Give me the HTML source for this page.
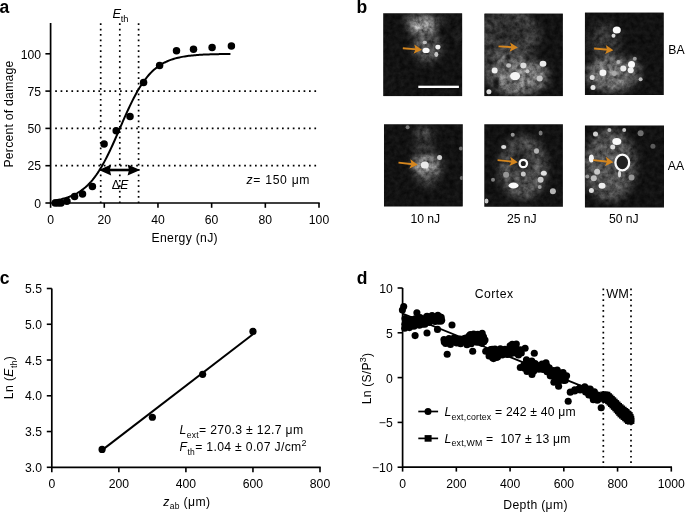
<!DOCTYPE html>
<html><head><meta charset="utf-8"><style>
html,body{margin:0;padding:0;background:#fff;}
svg{display:block;will-change:transform;}
text{font-family:"Liberation Sans",sans-serif;font-size:12.2px;fill:#000;}
text.lab{font-weight:bold;font-size:17.5px;}
</style></head><body>
<svg width="685" height="512" viewBox="0 0 685 512">
<defs>
<filter id="bc" x="-100%" y="-100%" width="300%" height="300%" color-interpolation-filters="sRGB"><feGaussianBlur stdDeviation="4"/></filter>
<filter id="bs" x="-100%" y="-100%" width="300%" height="300%" color-interpolation-filters="sRGB"><feGaussianBlur stdDeviation="0.7"/></filter>
<filter id="bd" x="-100%" y="-100%" width="300%" height="300%" color-interpolation-filters="sRGB"><feGaussianBlur stdDeviation="1.1"/></filter>
<filter id="br" x="-100%" y="-100%" width="300%" height="300%" color-interpolation-filters="sRGB"><feGaussianBlur stdDeviation="0.4"/></filter>
<filter id="tex" x="0" y="0" width="100%" height="100%" color-interpolation-filters="sRGB"><feTurbulence type="fractalNoise" baseFrequency="0.2" numOctaves="4" seed="5" result="n"/><feColorMatrix in="n" type="matrix" values="1 0 0 0 0  1 0 0 0 0  1 0 0 0 0  0 0 0 0 1" result="ng"/><feComposite in="SourceGraphic" in2="ng" operator="arithmetic" k1="1.5" k2="0.25" k3="0" k4="0"/></filter>
</defs>
<g id="pa">
<text x="-0.5" y="12.8" class="lab">a</text>
<line x1="55.20" y1="165.70" x2="319.00" y2="165.70" stroke="#000" stroke-width="1.7" stroke-dasharray="1.7 3.7" fill="none"/>
<line x1="55.20" y1="128.40" x2="319.00" y2="128.40" stroke="#000" stroke-width="1.7" stroke-dasharray="1.7 3.7" fill="none"/>
<line x1="55.20" y1="91.10" x2="319.00" y2="91.10" stroke="#000" stroke-width="1.7" stroke-dasharray="1.7 3.7" fill="none"/>
<line x1="100.7" y1="23.3" x2="100.7" y2="203.0" stroke="#000" stroke-width="1.7" stroke-dasharray="1.7 3.7" fill="none"/>
<line x1="119.8" y1="23.3" x2="119.8" y2="203.0" stroke="#000" stroke-width="1.7" stroke-dasharray="1.7 3.7" fill="none"/>
<line x1="138.6" y1="23.3" x2="138.6" y2="203.0" stroke="#000" stroke-width="1.7" stroke-dasharray="1.7 3.7" fill="none"/>
<path d="M50.6 23 V203.0 H319.70000000000005" stroke="#000" stroke-width="1.7" fill="none"/>
<line x1="45.4" y1="203.00" x2="50.6" y2="203.00" stroke="#000" stroke-width="1.6"/>
<text x="41.0" y="207.70" text-anchor="end">0</text>
<line x1="45.4" y1="165.70" x2="50.6" y2="165.70" stroke="#000" stroke-width="1.6"/>
<text x="41.0" y="170.40" text-anchor="end">25</text>
<line x1="45.4" y1="128.40" x2="50.6" y2="128.40" stroke="#000" stroke-width="1.6"/>
<text x="41.0" y="133.10" text-anchor="end">50</text>
<line x1="45.4" y1="91.10" x2="50.6" y2="91.10" stroke="#000" stroke-width="1.6"/>
<text x="41.0" y="95.80" text-anchor="end">75</text>
<line x1="45.4" y1="53.80" x2="50.6" y2="53.80" stroke="#000" stroke-width="1.6"/>
<text x="41.0" y="58.50" text-anchor="end">100</text>
<line x1="50.60" y1="203.0" x2="50.60" y2="207.8" stroke="#000" stroke-width="1.6"/>
<text x="50.60" y="223.7" text-anchor="middle">0</text>
<line x1="104.28" y1="203.0" x2="104.28" y2="207.8" stroke="#000" stroke-width="1.6"/>
<text x="104.28" y="223.7" text-anchor="middle">20</text>
<line x1="157.96" y1="203.0" x2="157.96" y2="207.8" stroke="#000" stroke-width="1.6"/>
<text x="157.96" y="223.7" text-anchor="middle">40</text>
<line x1="211.64" y1="203.0" x2="211.64" y2="207.8" stroke="#000" stroke-width="1.6"/>
<text x="211.64" y="223.7" text-anchor="middle">60</text>
<line x1="265.32" y1="203.0" x2="265.32" y2="207.8" stroke="#000" stroke-width="1.6"/>
<text x="265.32" y="223.7" text-anchor="middle">80</text>
<line x1="319.00" y1="203.0" x2="319.00" y2="207.8" stroke="#000" stroke-width="1.6"/>
<text x="319.00" y="223.7" text-anchor="middle">100</text>
<text x="184.6" y="241.7" text-anchor="middle" textLength="66">Energy (nJ)</text>
<text transform="translate(12.9 114.1) rotate(-90)" text-anchor="middle" textLength="107">Percent of damage</text>
<polyline points="53.28,200.65 54.63,200.45 55.97,200.23 57.31,199.99 58.65,199.74 59.99,199.46 61.34,199.16 62.68,198.83 64.02,198.48 65.36,198.10 66.70,197.69 68.05,197.25 69.39,196.77 70.73,196.25 72.07,195.70 73.41,195.09 74.76,194.45 76.10,193.75 77.44,193.00 78.78,192.19 80.12,191.33 81.47,190.40 82.81,189.40 84.15,188.34 85.49,187.20 86.83,185.98 88.18,184.69 89.52,183.30 90.86,181.84 92.20,180.28 93.54,178.62 94.89,176.88 96.23,175.03 97.57,173.09 98.91,171.05 100.25,168.90 101.60,166.66 102.94,164.32 104.28,161.89 105.62,159.36 106.96,156.74 108.31,154.04 109.65,151.26 110.99,148.41 112.33,145.50 113.67,142.53 115.02,139.51 116.36,136.45 117.70,133.37 119.04,130.26 120.38,127.16 121.73,124.05 123.07,120.96 124.41,117.90 125.75,114.87 127.09,111.89 128.44,108.97 129.78,106.10 131.12,103.31 132.46,100.59 133.80,97.96 135.15,95.41 136.49,92.96 137.83,90.60 139.17,88.34 140.51,86.17 141.86,84.11 143.20,82.15 144.54,80.28 145.88,78.52 147.22,76.85 148.57,75.27 149.91,73.78 151.25,72.38 152.59,71.07 153.93,69.84 155.28,68.68 156.62,67.60 157.96,66.59 159.30,65.65 160.64,64.77 161.99,63.96 163.33,63.20 164.67,62.49 166.01,61.83 167.35,61.22 168.70,60.65 170.04,60.13 171.38,59.64 172.72,59.19 174.06,58.78 175.41,58.39 176.75,58.03 178.09,57.70 179.43,57.40 180.77,57.12 182.12,56.86 183.46,56.62 184.80,56.40 186.14,56.19 187.48,56.00 188.83,55.83 190.17,55.67 191.51,55.52 192.85,55.39 194.19,55.26 195.54,55.14 196.88,55.04 198.22,54.94 199.56,54.85 200.90,54.77 202.25,54.69 203.59,54.62 204.93,54.55 206.27,54.49 207.61,54.44 208.96,54.39 210.30,54.34 211.64,54.30 212.98,54.26 214.32,54.22 215.67,54.19 217.01,54.16 218.35,54.13 219.69,54.10 221.03,54.08 222.38,54.06 223.72,54.04 225.06,54.02 226.40,54.00 227.74,53.98 229.09,53.97 230.43,53.96" stroke="#000" stroke-width="2" fill="none"/>
<circle cx="55.2" cy="203.1" r="3.75"/>
<circle cx="58.1" cy="203" r="3.75"/>
<circle cx="61" cy="203" r="3.75"/>
<circle cx="66.9" cy="201.3" r="3.75"/>
<circle cx="74.6" cy="196.6" r="3.75"/>
<circle cx="82.5" cy="194" r="3.75"/>
<circle cx="92.4" cy="186.4" r="3.75"/>
<circle cx="104.1" cy="144.1" r="3.75"/>
<circle cx="116.2" cy="130.7" r="3.75"/>
<circle cx="130" cy="116.5" r="3.75"/>
<circle cx="143.6" cy="82.6" r="3.75"/>
<circle cx="159.6" cy="65.5" r="3.75"/>
<circle cx="176.5" cy="50.8" r="3.75"/>
<circle cx="193.5" cy="49.3" r="3.75"/>
<circle cx="212.1" cy="47.5" r="3.75"/>
<circle cx="231.4" cy="46" r="3.75"/>
<text x="112.5" y="18.3" font-style="italic" style="font-size:12.8px">E</text><text x="120.7" y="21.9" style="font-size:9.3px">th</text>
<line x1="106" y1="170" x2="133" y2="170" stroke="#000" stroke-width="2.6"/>
<path d="M98.8 170 L111.2 164.6 L109.8 170 L111.2 175.4 Z"/>
<path d="M140.2 170 L127.6 164.6 L129 170 L127.6 175.4 Z"/>
<text x="111.8" y="189" >&#916;</text><text x="120.2" y="189" font-style="italic">E</text>
<text x="246.5" y="184.1" textLength="63"><tspan font-style="italic">z</tspan>= 150 &#956;m</text>
</g>
<g id="pc">
<text x="-0.3" y="283.5" class="lab">c</text>
<path d="M51.8 288.50 V467.3 H320.70" stroke="#000" stroke-width="1.7" fill="none"/>
<line x1="46.8" y1="467.30" x2="51.8" y2="467.30" stroke="#000" stroke-width="1.6"/>
<text x="42.0" y="472.00" text-anchor="end">3.0</text>
<line x1="46.8" y1="431.54" x2="51.8" y2="431.54" stroke="#000" stroke-width="1.6"/>
<text x="42.0" y="436.24" text-anchor="end">3.5</text>
<line x1="46.8" y1="395.78" x2="51.8" y2="395.78" stroke="#000" stroke-width="1.6"/>
<text x="42.0" y="400.48" text-anchor="end">4.0</text>
<line x1="46.8" y1="360.02" x2="51.8" y2="360.02" stroke="#000" stroke-width="1.6"/>
<text x="42.0" y="364.72" text-anchor="end">4.5</text>
<line x1="46.8" y1="324.26" x2="51.8" y2="324.26" stroke="#000" stroke-width="1.6"/>
<text x="42.0" y="328.96" text-anchor="end">5.0</text>
<line x1="46.8" y1="288.50" x2="51.8" y2="288.50" stroke="#000" stroke-width="1.6"/>
<text x="42.0" y="293.20" text-anchor="end">5.5</text>
<line x1="51.80" y1="467.3" x2="51.80" y2="472.3" stroke="#000" stroke-width="1.6"/>
<text x="51.80" y="487.6" text-anchor="middle">0</text>
<line x1="118.85" y1="467.3" x2="118.85" y2="472.3" stroke="#000" stroke-width="1.6"/>
<text x="118.85" y="487.6" text-anchor="middle">200</text>
<line x1="185.90" y1="467.3" x2="185.90" y2="472.3" stroke="#000" stroke-width="1.6"/>
<text x="185.90" y="487.6" text-anchor="middle">400</text>
<line x1="252.95" y1="467.3" x2="252.95" y2="472.3" stroke="#000" stroke-width="1.6"/>
<text x="252.95" y="487.6" text-anchor="middle">600</text>
<line x1="320.00" y1="467.3" x2="320.00" y2="472.3" stroke="#000" stroke-width="1.6"/>
<text x="320.00" y="487.6" text-anchor="middle">800</text>
<text x="163.2" y="505.5" textLength="46.8"><tspan font-style="italic">z</tspan><tspan font-size="8.5" dy="3.9">ab</tspan><tspan dy="-3.9"> (&#956;m)</tspan></text>
<text transform="translate(12.9 377.7) rotate(-90)" text-anchor="middle" textLength="43.2">Ln (<tspan font-style="italic">E</tspan><tspan font-size="8.5" dy="3.9">th</tspan><tspan dy="-3.9">)</tspan></text>
<line x1="102.09" y1="450.14" x2="252.95" y2="334.27" stroke="#000" stroke-width="2"/>
<circle cx="102.09" cy="449.42" r="3.6"/>
<circle cx="152.38" cy="417.24" r="3.6"/>
<circle cx="202.66" cy="374.32" r="3.6"/>
<circle cx="252.95" cy="331.41" r="3.6"/>
<text x="179.6" y="433.8" textLength="123.5"><tspan font-style="italic">L</tspan><tspan font-size="8.5" dy="3.9">ext</tspan><tspan dy="-3.9">= 270.3 &#177; 12.7 &#956;m</tspan></text>
<text x="179.6" y="451.3" textLength="127"><tspan font-style="italic">F</tspan><tspan font-size="8.5" dy="3.9">th</tspan><tspan dy="-3.9">= 1.04 &#177; 0.07 J/cm</tspan><tspan font-size="9" dy="-5">2</tspan></text>
</g>
<g id="pd">
<text x="356.8" y="283.6" class="lab">d</text>
<line x1="603.32" y1="288.5" x2="603.32" y2="467.2" stroke="#000" stroke-width="1.7" stroke-dasharray="1.7 3.7" fill="none"/>
<line x1="631.00" y1="288.5" x2="631.00" y2="467.2" stroke="#000" stroke-width="1.7" stroke-dasharray="1.7 3.7" fill="none"/>
<path d="M402.6 288.00 V467.2 H672.00" stroke="#000" stroke-width="1.7" fill="none"/>
<line x1="397.6" y1="288.00" x2="402.6" y2="288.00" stroke="#000" stroke-width="1.6"/>
<text x="392.70000000000005" y="293.00" text-anchor="end">10</text>
<line x1="397.6" y1="332.80" x2="402.6" y2="332.80" stroke="#000" stroke-width="1.6"/>
<text x="392.70000000000005" y="337.80" text-anchor="end">5</text>
<line x1="397.6" y1="377.60" x2="402.6" y2="377.60" stroke="#000" stroke-width="1.6"/>
<text x="392.70000000000005" y="382.60" text-anchor="end">0</text>
<line x1="397.6" y1="422.40" x2="402.6" y2="422.40" stroke="#000" stroke-width="1.6"/>
<text x="392.70000000000005" y="427.40" text-anchor="end">&#8722;5</text>
<line x1="397.6" y1="467.20" x2="402.6" y2="467.20" stroke="#000" stroke-width="1.6"/>
<text x="392.70000000000005" y="472.20" text-anchor="end">&#8722;10</text>
<line x1="402.60" y1="467.2" x2="402.60" y2="471.59999999999997" stroke="#000" stroke-width="1.6"/>
<text x="402.60" y="487.6" text-anchor="middle">0</text>
<line x1="456.34" y1="467.2" x2="456.34" y2="471.59999999999997" stroke="#000" stroke-width="1.6"/>
<text x="456.34" y="487.6" text-anchor="middle">200</text>
<line x1="510.08" y1="467.2" x2="510.08" y2="471.59999999999997" stroke="#000" stroke-width="1.6"/>
<text x="510.08" y="487.6" text-anchor="middle">400</text>
<line x1="563.82" y1="467.2" x2="563.82" y2="471.59999999999997" stroke="#000" stroke-width="1.6"/>
<text x="563.82" y="487.6" text-anchor="middle">600</text>
<line x1="617.56" y1="467.2" x2="617.56" y2="471.59999999999997" stroke="#000" stroke-width="1.6"/>
<text x="617.56" y="487.6" text-anchor="middle">800</text>
<line x1="671.30" y1="467.2" x2="671.30" y2="471.59999999999997" stroke="#000" stroke-width="1.6"/>
<text x="671.30" y="487.6" text-anchor="middle">1000</text>
<text x="535.4" y="509.4" text-anchor="middle" textLength="64.2">Depth (&#956;m)</text>
<text transform="translate(371 378.6) rotate(-90)" text-anchor="middle" textLength="51.2">Ln (S/P<tspan font-size="9" dy="-5">3</tspan><tspan dy="5">)</tspan></text>
<text x="474.7" y="297.8" textLength="38.4">Cortex</text>
<text x="606.2" y="297.8" style="font-size:12.7px">WM</text>
<line x1="402.60" y1="313.60" x2="596" y2="391.93" stroke="#000" stroke-width="1.8"/>
<circle cx="404.98" cy="318.62" r="3.55"/>
<circle cx="404.87" cy="324.20" r="3.55"/>
<circle cx="409.54" cy="326.76" r="3.55"/>
<circle cx="413.94" cy="326.30" r="3.55"/>
<circle cx="419.40" cy="325.28" r="3.55"/>
<circle cx="424.85" cy="324.13" r="3.55"/>
<circle cx="429.10" cy="322.42" r="3.55"/>
<circle cx="435.08" cy="321.43" r="3.55"/>
<circle cx="440.78" cy="321.30" r="3.55"/>
<circle cx="441.17" cy="317.18" r="3.55"/>
<circle cx="437.85" cy="315.19" r="3.55"/>
<circle cx="432.05" cy="315.61" r="3.55"/>
<circle cx="427.09" cy="316.25" r="3.55"/>
<circle cx="420.17" cy="317.50" r="3.55"/>
<circle cx="415.13" cy="318.72" r="3.55"/>
<circle cx="411.26" cy="319.58" r="3.55"/>
<circle cx="426.51" cy="316.83" r="3.55"/>
<circle cx="431.40" cy="317.28" r="3.55"/>
<circle cx="435.90" cy="317.04" r="3.55"/>
<circle cx="440.27" cy="317.07" r="3.55"/>
<circle cx="407.02" cy="320.41" r="3.55"/>
<circle cx="412.07" cy="321.27" r="3.55"/>
<circle cx="416.28" cy="320.92" r="3.55"/>
<circle cx="420.05" cy="320.35" r="3.55"/>
<circle cx="424.42" cy="320.16" r="3.55"/>
<circle cx="429.39" cy="320.55" r="3.55"/>
<circle cx="433.89" cy="320.54" r="3.55"/>
<circle cx="438.42" cy="321.09" r="3.55"/>
<circle cx="441.67" cy="320.32" r="3.55"/>
<circle cx="405.56" cy="324.44" r="3.55"/>
<circle cx="410.05" cy="324.35" r="3.55"/>
<circle cx="413.36" cy="324.63" r="3.55"/>
<circle cx="418.61" cy="324.19" r="3.55"/>
<circle cx="422.18" cy="324.27" r="3.55"/>
<circle cx="443.97" cy="339.58" r="3.55"/>
<circle cx="445.68" cy="343.57" r="3.55"/>
<circle cx="450.45" cy="344.50" r="3.55"/>
<circle cx="456.65" cy="343.03" r="3.55"/>
<circle cx="460.65" cy="343.73" r="3.55"/>
<circle cx="466.99" cy="344.66" r="3.55"/>
<circle cx="471.17" cy="343.79" r="3.55"/>
<circle cx="477.02" cy="342.16" r="3.55"/>
<circle cx="481.80" cy="343.34" r="3.55"/>
<circle cx="484.03" cy="339.59" r="3.55"/>
<circle cx="482.18" cy="333.18" r="3.55"/>
<circle cx="477.74" cy="334.21" r="3.55"/>
<circle cx="473.68" cy="334.02" r="3.55"/>
<circle cx="469.14" cy="335.80" r="3.55"/>
<circle cx="465.82" cy="337.95" r="3.55"/>
<circle cx="460.15" cy="339.17" r="3.55"/>
<circle cx="453.91" cy="337.99" r="3.55"/>
<circle cx="448.98" cy="338.43" r="3.55"/>
<circle cx="470.42" cy="334.48" r="3.55"/>
<circle cx="479.46" cy="334.97" r="3.55"/>
<circle cx="455.26" cy="338.86" r="3.55"/>
<circle cx="464.23" cy="338.46" r="3.55"/>
<circle cx="468.08" cy="337.86" r="3.55"/>
<circle cx="472.02" cy="338.89" r="3.55"/>
<circle cx="476.66" cy="338.58" r="3.55"/>
<circle cx="481.08" cy="338.72" r="3.55"/>
<circle cx="444.29" cy="341.89" r="3.55"/>
<circle cx="448.18" cy="342.40" r="3.55"/>
<circle cx="452.46" cy="341.81" r="3.55"/>
<circle cx="457.44" cy="342.56" r="3.55"/>
<circle cx="461.91" cy="341.87" r="3.55"/>
<circle cx="466.67" cy="341.78" r="3.55"/>
<circle cx="469.99" cy="341.86" r="3.55"/>
<circle cx="474.91" cy="341.61" r="3.55"/>
<circle cx="478.98" cy="341.98" r="3.55"/>
<circle cx="483.86" cy="341.69" r="3.55"/>
<circle cx="485.72" cy="351.19" r="3.55"/>
<circle cx="489.07" cy="356.00" r="3.55"/>
<circle cx="493.55" cy="358.60" r="3.55"/>
<circle cx="497.58" cy="356.91" r="3.55"/>
<circle cx="502.24" cy="354.93" r="3.55"/>
<circle cx="507.20" cy="354.55" r="3.55"/>
<circle cx="511.37" cy="353.54" r="3.55"/>
<circle cx="516.35" cy="353.23" r="3.55"/>
<circle cx="521.29" cy="352.88" r="3.55"/>
<circle cx="520.46" cy="350.56" r="3.55"/>
<circle cx="516.17" cy="348.45" r="3.55"/>
<circle cx="512.24" cy="344.31" r="3.55"/>
<circle cx="510.11" cy="345.89" r="3.55"/>
<circle cx="504.99" cy="349.33" r="3.55"/>
<circle cx="500.34" cy="348.84" r="3.55"/>
<circle cx="495.01" cy="348.96" r="3.55"/>
<circle cx="490.67" cy="349.43" r="3.55"/>
<circle cx="512.54" cy="345.87" r="3.55"/>
<circle cx="492.22" cy="349.26" r="3.55"/>
<circle cx="496.66" cy="350.36" r="3.55"/>
<circle cx="501.35" cy="350.04" r="3.55"/>
<circle cx="505.16" cy="350.05" r="3.55"/>
<circle cx="509.79" cy="349.70" r="3.55"/>
<circle cx="514.50" cy="349.27" r="3.55"/>
<circle cx="490.09" cy="353.70" r="3.55"/>
<circle cx="495.00" cy="353.27" r="3.55"/>
<circle cx="498.31" cy="353.33" r="3.55"/>
<circle cx="503.51" cy="353.21" r="3.55"/>
<circle cx="507.30" cy="354.05" r="3.55"/>
<circle cx="492.59" cy="357.82" r="3.55"/>
<circle cx="496.35" cy="357.47" r="3.55"/>
<circle cx="526.45" cy="359.88" r="3.55"/>
<circle cx="524.00" cy="364.77" r="3.55"/>
<circle cx="524.58" cy="368.18" r="3.55"/>
<circle cx="529.01" cy="370.33" r="3.55"/>
<circle cx="533.79" cy="370.91" r="3.55"/>
<circle cx="538.87" cy="369.13" r="3.55"/>
<circle cx="543.03" cy="369.54" r="3.55"/>
<circle cx="547.03" cy="371.69" r="3.55"/>
<circle cx="550.26" cy="375.84" r="3.55"/>
<circle cx="555.47" cy="380.19" r="3.55"/>
<circle cx="559.01" cy="380.68" r="3.55"/>
<circle cx="565.33" cy="380.28" r="3.55"/>
<circle cx="566.59" cy="375.68" r="3.55"/>
<circle cx="563.05" cy="372.54" r="3.55"/>
<circle cx="557.21" cy="370.15" r="3.55"/>
<circle cx="553.61" cy="370.47" r="3.55"/>
<circle cx="549.22" cy="367.81" r="3.55"/>
<circle cx="545.99" cy="362.71" r="3.55"/>
<circle cx="542.05" cy="364.10" r="3.55"/>
<circle cx="535.16" cy="363.52" r="3.55"/>
<circle cx="531.81" cy="361.17" r="3.55"/>
<circle cx="527.30" cy="361.66" r="3.55"/>
<circle cx="531.70" cy="361.91" r="3.55"/>
<circle cx="524.62" cy="365.88" r="3.55"/>
<circle cx="529.64" cy="365.03" r="3.55"/>
<circle cx="534.07" cy="365.79" r="3.55"/>
<circle cx="537.50" cy="365.47" r="3.55"/>
<circle cx="542.50" cy="366.02" r="3.55"/>
<circle cx="546.60" cy="365.61" r="3.55"/>
<circle cx="532.12" cy="369.90" r="3.55"/>
<circle cx="545.17" cy="369.15" r="3.55"/>
<circle cx="548.65" cy="369.26" r="3.55"/>
<circle cx="550.81" cy="373.16" r="3.55"/>
<circle cx="555.30" cy="373.40" r="3.55"/>
<circle cx="560.11" cy="373.16" r="3.55"/>
<circle cx="554.11" cy="376.95" r="3.55"/>
<circle cx="557.83" cy="377.29" r="3.55"/>
<circle cx="562.42" cy="376.92" r="3.55"/>
<circle cx="560.28" cy="380.16" r="3.55"/>
<circle cx="563.98" cy="380.40" r="3.55"/>
<circle cx="570.28" cy="392.13" r="3.55"/>
<circle cx="574.72" cy="390.99" r="3.55"/>
<circle cx="580.14" cy="390.03" r="3.55"/>
<circle cx="585.56" cy="392.11" r="3.55"/>
<circle cx="588.83" cy="394.90" r="3.55"/>
<circle cx="593.35" cy="399.73" r="3.55"/>
<circle cx="597.32" cy="400.14" r="3.55"/>
<circle cx="597.84" cy="394.96" r="3.55"/>
<circle cx="594.40" cy="391.77" r="3.55"/>
<circle cx="590.23" cy="389.08" r="3.55"/>
<circle cx="584.78" cy="386.76" r="3.55"/>
<circle cx="579.82" cy="388.16" r="3.55"/>
<circle cx="574.74" cy="389.70" r="3.55"/>
<circle cx="579.02" cy="388.81" r="3.55"/>
<circle cx="583.30" cy="389.07" r="3.55"/>
<circle cx="587.80" cy="389.07" r="3.55"/>
<circle cx="589.94" cy="392.16" r="3.55"/>
<circle cx="593.58" cy="392.84" r="3.55"/>
<circle cx="592.38" cy="396.25" r="3.55"/>
<circle cx="596.69" cy="395.87" r="3.55"/>
<circle cx="597.98" cy="399.52" r="3.55"/>
<circle cx="403.70" cy="306.60" r="3.55"/>
<circle cx="402.40" cy="310.10" r="3.55"/>
<circle cx="416.90" cy="312.70" r="3.55"/>
<circle cx="415.10" cy="335.60" r="3.55"/>
<circle cx="427.00" cy="333.00" r="3.55"/>
<circle cx="437.50" cy="329.40" r="3.55"/>
<circle cx="452.00" cy="325.00" r="3.55"/>
<circle cx="447.20" cy="354.30" r="3.55"/>
<circle cx="472.70" cy="351.20" r="3.55"/>
<circle cx="568.20" cy="401.20" r="3.55"/>
<circle cx="601.20" cy="407.80" r="3.55"/>
<circle cx="516.30" cy="344.00" r="3.55"/>
<circle cx="525.10" cy="348.30" r="3.55"/>
<circle cx="518.50" cy="354.90" r="3.55"/>
<circle cx="520.30" cy="349.70" r="3.55"/>
<circle cx="534.30" cy="353.20" r="3.55"/>
<circle cx="485.00" cy="340.00" r="3.55"/>
<circle cx="483.50" cy="336.80" r="3.55"/>
<circle cx="532.00" cy="374.50" r="3.55"/>
<circle cx="520.30" cy="367.50" r="3.55"/>
<circle cx="558.60" cy="386.30" r="3.55"/>
<circle cx="553.90" cy="382.30" r="3.55"/>
<circle cx="527.00" cy="371.50" r="3.55"/>
<circle cx="404.70" cy="328.20" r="3.55"/>
<circle cx="409.40" cy="327.60" r="3.55"/>
<rect x="600.26" y="391.50" width="6.2" height="6.2"/>
<rect x="600.30" y="393.51" width="6.2" height="6.2"/>
<rect x="600.34" y="395.53" width="6.2" height="6.2"/>
<rect x="601.65" y="396.39" width="6.2" height="6.2"/>
<rect x="603.65" y="396.63" width="6.2" height="6.2"/>
<rect x="605.13" y="397.96" width="6.2" height="6.2"/>
<rect x="606.58" y="399.36" width="6.2" height="6.2"/>
<rect x="608.02" y="400.77" width="6.2" height="6.2"/>
<rect x="609.44" y="402.20" width="6.2" height="6.2"/>
<rect x="610.87" y="403.62" width="6.2" height="6.2"/>
<rect x="612.29" y="405.05" width="6.2" height="6.2"/>
<rect x="613.62" y="406.56" width="6.2" height="6.2"/>
<rect x="614.93" y="408.09" width="6.2" height="6.2"/>
<rect x="616.24" y="409.62" width="6.2" height="6.2"/>
<rect x="617.54" y="411.16" width="6.2" height="6.2"/>
<rect x="619.06" y="412.48" width="6.2" height="6.2"/>
<rect x="620.61" y="413.76" width="6.2" height="6.2"/>
<rect x="622.16" y="415.05" width="6.2" height="6.2"/>
<rect x="623.65" y="416.41" width="6.2" height="6.2"/>
<rect x="625.07" y="417.83" width="6.2" height="6.2"/>
<rect x="626.85" y="418.40" width="6.2" height="6.2"/>
<rect x="628.19" y="417.76" width="6.2" height="6.2"/>
<rect x="628.07" y="415.75" width="6.2" height="6.2"/>
<rect x="627.39" y="413.89" width="6.2" height="6.2"/>
<rect x="626.49" y="412.09" width="6.2" height="6.2"/>
<rect x="625.06" y="410.69" width="6.2" height="6.2"/>
<rect x="623.55" y="409.36" width="6.2" height="6.2"/>
<rect x="622.02" y="408.04" width="6.2" height="6.2"/>
<rect x="620.45" y="406.78" width="6.2" height="6.2"/>
<rect x="618.88" y="405.52" width="6.2" height="6.2"/>
<rect x="617.31" y="404.26" width="6.2" height="6.2"/>
<rect x="615.79" y="402.94" width="6.2" height="6.2"/>
<rect x="614.35" y="401.53" width="6.2" height="6.2"/>
<rect x="612.92" y="400.11" width="6.2" height="6.2"/>
<rect x="611.48" y="398.70" width="6.2" height="6.2"/>
<rect x="610.05" y="397.29" width="6.2" height="6.2"/>
<rect x="608.58" y="395.91" width="6.2" height="6.2"/>
<rect x="607.12" y="394.52" width="6.2" height="6.2"/>
<rect x="605.65" y="393.14" width="6.2" height="6.2"/>
<rect x="604.18" y="391.76" width="6.2" height="6.2"/>
<rect x="602.27" y="391.50" width="6.2" height="6.2"/>
<rect x="602.76" y="394.00" width="6.2" height="6.2"/>
<rect x="605.26" y="394.00" width="6.2" height="6.2"/>
<rect x="602.76" y="396.50" width="6.2" height="6.2"/>
<rect x="605.26" y="396.50" width="6.2" height="6.2"/>
<rect x="607.76" y="396.50" width="6.2" height="6.2"/>
<rect x="607.76" y="399.00" width="6.2" height="6.2"/>
<rect x="610.26" y="399.00" width="6.2" height="6.2"/>
<rect x="610.26" y="401.50" width="6.2" height="6.2"/>
<rect x="612.76" y="401.50" width="6.2" height="6.2"/>
<rect x="612.76" y="404.00" width="6.2" height="6.2"/>
<rect x="615.26" y="404.00" width="6.2" height="6.2"/>
<rect x="615.26" y="406.50" width="6.2" height="6.2"/>
<rect x="617.76" y="406.50" width="6.2" height="6.2"/>
<rect x="617.76" y="409.00" width="6.2" height="6.2"/>
<rect x="620.26" y="409.00" width="6.2" height="6.2"/>
<rect x="622.76" y="409.00" width="6.2" height="6.2"/>
<rect x="620.26" y="411.50" width="6.2" height="6.2"/>
<rect x="622.76" y="411.50" width="6.2" height="6.2"/>
<rect x="625.26" y="411.50" width="6.2" height="6.2"/>
<rect x="622.76" y="414.00" width="6.2" height="6.2"/>
<rect x="625.26" y="414.00" width="6.2" height="6.2"/>
<rect x="625.26" y="416.50" width="6.2" height="6.2"/>
<rect x="627.76" y="416.50" width="6.2" height="6.2"/>
<line x1="418.3" y1="411.5" x2="438.1" y2="411.5" stroke="#000" stroke-width="1.7"/><circle cx="428" cy="411.5" r="3.5"/>
<text x="444.5" y="416.2" textLength="131.1"><tspan font-style="italic">L</tspan><tspan font-size="8.8" dy="3.4">ext,cortex</tspan><tspan dy="-3.4"> = 242 &#177; 40 &#956;m</tspan></text>
<line x1="418.3" y1="438.4" x2="438.1" y2="438.4" stroke="#000" stroke-width="1.7"/><rect x="424.6" y="435.1" width="7" height="6.6"/>
<text x="444.5" y="442.7" textLength="126"><tspan font-style="italic">L</tspan><tspan font-size="8.8" dy="3.4">ext,WM</tspan><tspan dy="-3.4"> =&#160; 107 &#177; 13 &#956;m</tspan></text>
</g>
<g id="pb">
<text x="356.6" y="12.8" class="lab">b</text>
<clipPath id="ci0"><rect x="383.2" y="13.2" width="79.10" height="83.00"/></clipPath>
<g clip-path="url(#ci0)"><g filter="url(#tex)">
<rect x="383.2" y="13.2" width="79.10" height="83.00" fill="#121212"/>
<ellipse cx="422.3" cy="25.5" rx="14" ry="10" fill="rgb(150,150,150)" filter="url(#bc)"/>
<ellipse cx="427" cy="47" rx="14" ry="15" fill="rgb(85,85,85)" filter="url(#bc)"/>
<ellipse cx="409" cy="19" rx="3" ry="3" fill="rgb(120,120,120)" filter="url(#bc)"/>
<ellipse cx="439" cy="21" rx="3" ry="3" fill="rgb(90,90,90)" filter="url(#bc)"/>
<ellipse cx="446" cy="20" rx="2.5" ry="2.5" fill="rgb(80,80,80)" filter="url(#bc)"/>
<ellipse cx="459" cy="36" rx="2.5" ry="3" fill="rgb(90,90,90)" filter="url(#bc)"/>
<ellipse cx="397" cy="78.6" rx="3" ry="3" fill="rgb(45,45,45)" filter="url(#bc)"/>
<ellipse cx="428.9" cy="42.3" rx="1.8" ry="1.8" fill="rgb(30,30,30)" filter="url(#bd)"/>
</g>
<ellipse cx="426" cy="50.4" rx="3.6" ry="2.6" fill="rgb(250,250,250)" filter="url(#bs)"/>
<ellipse cx="437.9" cy="47.1" rx="2.6" ry="2.4" fill="rgb(240,240,240)" filter="url(#bs)"/>
<ellipse cx="436.3" cy="54.3" rx="2" ry="2.6" fill="rgb(200,200,200)" filter="url(#bs)"/>
<ellipse cx="424.8" cy="42.5" rx="2.2" ry="1.8" fill="rgb(190,190,190)" filter="url(#bs)"/>
</g>
<clipPath id="ci1"><rect x="484.3" y="13.5" width="78.60" height="82.70"/></clipPath>
<g clip-path="url(#ci1)"><g filter="url(#tex)">
<rect x="484.3" y="13.5" width="78.60" height="82.70" fill="#121212"/>
<ellipse cx="510" cy="35" rx="30" ry="26" fill="rgb(62,62,62)" filter="url(#bc)"/>
<ellipse cx="505" cy="32" rx="20" ry="14" fill="rgb(45,45,45)" filter="url(#bc)"/>
<ellipse cx="518" cy="76" rx="30" ry="18" fill="rgb(115,115,115)" filter="url(#bc)"/>
<ellipse cx="500" cy="62" rx="14" ry="12" fill="rgb(95,95,95)" filter="url(#bc)"/>
<ellipse cx="490" cy="50" rx="6" ry="30" fill="rgb(55,55,55)" filter="url(#bc)"/>
<ellipse cx="508.6" cy="57.3" rx="2.5" ry="2.5" fill="rgb(30,30,30)" filter="url(#bd)"/>
<ellipse cx="528.3" cy="58" rx="2.5" ry="2.5" fill="rgb(30,30,30)" filter="url(#bd)"/>
<ellipse cx="546.3" cy="59.7" rx="3" ry="3" fill="rgb(30,30,30)" filter="url(#bd)"/>
<ellipse cx="495.5" cy="83.5" rx="3" ry="6" fill="rgb(30,30,30)" filter="url(#bd)"/>
<ellipse cx="490.6" cy="61.4" rx="2.5" ry="2.5" fill="rgb(30,30,30)" filter="url(#bd)"/>
<ellipse cx="505.3" cy="33.5" rx="2.5" ry="2.5" fill="rgb(30,30,30)" filter="url(#bd)"/>
<ellipse cx="527.4" cy="31" rx="2.5" ry="2.5" fill="rgb(30,30,30)" filter="url(#bd)"/>
</g>
<ellipse cx="515.1" cy="76.1" rx="5" ry="4" fill="rgb(245,245,245)" filter="url(#bs)"/>
<ellipse cx="494.7" cy="70.4" rx="3" ry="3" fill="rgb(240,240,240)" filter="url(#bs)"/>
<ellipse cx="523.3" cy="65.5" rx="3" ry="3" fill="rgb(220,220,220)" filter="url(#bs)"/>
<ellipse cx="543" cy="63.8" rx="3.4" ry="3" fill="rgb(235,235,235)" filter="url(#bs)"/>
<ellipse cx="539.7" cy="78.6" rx="3" ry="3" fill="rgb(200,200,200)" filter="url(#bs)"/>
<ellipse cx="508.6" cy="65.5" rx="2.5" ry="2.2" fill="rgb(190,190,190)" filter="url(#bs)"/>
<ellipse cx="488.9" cy="91.7" rx="2.5" ry="2.5" fill="rgb(220,220,220)" filter="url(#bs)"/>
<ellipse cx="527.4" cy="71.2" rx="2" ry="2" fill="rgb(200,200,200)" filter="url(#bs)"/>
</g>
<clipPath id="ci2"><rect x="584.8" y="12.5" width="79.00" height="82.40"/></clipPath>
<g clip-path="url(#ci2)"><g filter="url(#tex)">
<rect x="584.8" y="12.5" width="79.00" height="82.40" fill="#121212"/>
<ellipse cx="605" cy="42" rx="16" ry="20" fill="rgb(50,50,50)" filter="url(#bc)"/>
<ellipse cx="612" cy="74" rx="25" ry="17" fill="rgb(110,110,110)" filter="url(#bc)"/>
<ellipse cx="632" cy="70" rx="8" ry="12" fill="rgb(80,80,80)" filter="url(#bc)"/>
</g>
<ellipse cx="616.8" cy="30" rx="4" ry="3.5" fill="rgb(250,250,250)" filter="url(#bs)"/>
<ellipse cx="613.5" cy="35.8" rx="2" ry="2" fill="rgb(220,220,220)" filter="url(#bs)"/>
<ellipse cx="631.5" cy="64.5" rx="3.5" ry="3.5" fill="rgb(250,250,250)" filter="url(#bs)"/>
<ellipse cx="630.7" cy="70.2" rx="3" ry="3" fill="rgb(240,240,240)" filter="url(#bs)"/>
<ellipse cx="623.3" cy="68.6" rx="3" ry="3" fill="rgb(235,235,235)" filter="url(#bs)"/>
<ellipse cx="602.9" cy="72.7" rx="3.5" ry="3.2" fill="rgb(245,245,245)" filter="url(#bs)"/>
<ellipse cx="592.2" cy="77.6" rx="2.5" ry="2.5" fill="rgb(220,220,220)" filter="url(#bs)"/>
<ellipse cx="593" cy="87.4" rx="2.5" ry="2.5" fill="rgb(230,230,230)" filter="url(#bs)"/>
<ellipse cx="640.6" cy="79.2" rx="2" ry="2" fill="rgb(190,190,190)" filter="url(#bs)"/>
<ellipse cx="634.8" cy="58.7" rx="2" ry="2" fill="rgb(160,160,160)" filter="url(#bs)"/>
<ellipse cx="614.3" cy="73.5" rx="2.5" ry="2.5" fill="rgb(170,170,170)" filter="url(#bs)"/>
<ellipse cx="618.4" cy="62" rx="2" ry="2" fill="rgb(180,180,180)" filter="url(#bs)"/>
</g>
<clipPath id="ci3"><rect x="383.9" y="124.2" width="78.90" height="82.40"/></clipPath>
<g clip-path="url(#ci3)"><g filter="url(#tex)">
<rect x="383.9" y="124.2" width="78.90" height="82.40" fill="#121212"/>
<ellipse cx="427" cy="166" rx="14" ry="13" fill="rgb(120,120,120)" filter="url(#bc)"/>
<ellipse cx="424" cy="134" rx="9" ry="7" fill="rgb(80,80,80)" filter="url(#bc)"/>
<ellipse cx="424" cy="148" rx="10" ry="10" fill="rgb(50,50,50)" filter="url(#bc)"/>
<ellipse cx="428" cy="180" rx="9" ry="6" fill="rgb(70,70,70)" filter="url(#bc)"/>
<ellipse cx="423" cy="164" rx="6" ry="5" fill="rgb(170,170,170)" filter="url(#bc)"/>
</g>
<ellipse cx="424.8" cy="165" rx="4" ry="3.5" fill="rgb(235,235,235)" filter="url(#bs)"/>
<ellipse cx="439.6" cy="157.6" rx="2.5" ry="2.5" fill="rgb(210,210,210)" filter="url(#bs)"/>
<ellipse cx="407.6" cy="127.3" rx="2" ry="2" fill="rgb(120,120,120)" filter="url(#bs)"/>
<ellipse cx="460.9" cy="148.6" rx="2" ry="2" fill="rgb(110,110,110)" filter="url(#bs)"/>
<ellipse cx="461.7" cy="178" rx="2" ry="2" fill="rgb(110,110,110)" filter="url(#bs)"/>
</g>
<clipPath id="ci4"><rect x="484.3" y="124.2" width="78.60" height="82.60"/></clipPath>
<g clip-path="url(#ci4)"><g filter="url(#tex)">
<rect x="484.3" y="124.2" width="78.60" height="82.60" fill="#121212"/>
<ellipse cx="523" cy="168" rx="24" ry="32" fill="rgb(78,78,78)" filter="url(#bc)"/>
<ellipse cx="520" cy="160" rx="12" ry="14" fill="rgb(40,40,40)" filter="url(#bc)"/>
</g>
<ellipse cx="523.3" cy="163.5" rx="3.7" ry="3.7" fill="rgb(32,32,32)" stroke="rgb(250,250,250)" stroke-width="2.3" filter="url(#br)"/>
<ellipse cx="513.5" cy="185.5" rx="5" ry="3" fill="rgb(250,250,250)" filter="url(#bs)"/>
<ellipse cx="503.7" cy="147" rx="2.6" ry="2" fill="rgb(220,220,220)" filter="url(#bs)"/>
<ellipse cx="536.5" cy="151" rx="2.5" ry="2.7" fill="rgb(180,180,180)" filter="url(#bs)"/>
<ellipse cx="543.8" cy="173.2" rx="3" ry="2.5" fill="rgb(225,225,225)" filter="url(#bs)"/>
<ellipse cx="540.6" cy="179.7" rx="3" ry="3" fill="rgb(200,200,200)" filter="url(#bs)"/>
<ellipse cx="539.7" cy="187.1" rx="2" ry="2" fill="rgb(160,160,160)" filter="url(#bs)"/>
<ellipse cx="552.9" cy="191.2" rx="3" ry="3" fill="rgb(180,180,180)" filter="url(#bs)"/>
<ellipse cx="512.7" cy="134.7" rx="2" ry="2" fill="rgb(150,150,150)" filter="url(#bs)"/>
<ellipse cx="540.6" cy="133" rx="2" ry="2.5" fill="rgb(120,120,120)" filter="url(#bs)"/>
<ellipse cx="506.1" cy="174.8" rx="3" ry="3" fill="rgb(150,150,150)" filter="url(#bs)"/>
<ellipse cx="523.3" cy="174" rx="2.5" ry="2.5" fill="rgb(200,200,200)" filter="url(#bs)"/>
<ellipse cx="493" cy="179.7" rx="2" ry="2" fill="rgb(130,130,130)" filter="url(#bs)"/>
<ellipse cx="486.5" cy="201" rx="2" ry="2.5" fill="rgb(200,200,200)" filter="url(#bs)"/>
</g>
<clipPath id="ci5"><rect x="584.8" y="125.4" width="79.20" height="82.20"/></clipPath>
<g clip-path="url(#ci5)"><g filter="url(#tex)">
<rect x="584.8" y="125.4" width="79.20" height="82.20" fill="#121212"/>
<ellipse cx="610" cy="165" rx="26" ry="36" fill="rgb(80,80,80)" filter="url(#bc)"/>
</g>
<ellipse cx="622.3" cy="162.5" rx="6.9" ry="7.9" fill="rgb(32,32,32)" stroke="rgb(250,250,250)" stroke-width="2.3" filter="url(#br)"/>
<ellipse cx="616.8" cy="141.4" rx="4.5" ry="3.5" fill="rgb(250,250,250)" filter="url(#bs)"/>
<ellipse cx="612.7" cy="147.1" rx="2.5" ry="2.5" fill="rgb(220,220,220)" filter="url(#bs)"/>
<ellipse cx="591.4" cy="158.6" rx="2.5" ry="4" fill="rgb(245,245,245)" filter="url(#bs)"/>
<ellipse cx="595.5" cy="134" rx="2.5" ry="2.5" fill="rgb(210,210,210)" filter="url(#bs)"/>
<ellipse cx="609.4" cy="129.9" rx="2" ry="2" fill="rgb(180,180,180)" filter="url(#bs)"/>
<ellipse cx="624.2" cy="129.9" rx="2" ry="2" fill="rgb(200,200,200)" filter="url(#bs)"/>
<ellipse cx="597.1" cy="171.7" rx="3" ry="3" fill="rgb(200,200,200)" filter="url(#bs)"/>
<ellipse cx="593.8" cy="178.3" rx="3" ry="3" fill="rgb(190,190,190)" filter="url(#bs)"/>
<ellipse cx="602" cy="185.7" rx="3.5" ry="3" fill="rgb(240,240,240)" filter="url(#bs)"/>
<ellipse cx="591.4" cy="190.6" rx="2.5" ry="2.5" fill="rgb(220,220,220)" filter="url(#bs)"/>
<ellipse cx="631.5" cy="177.5" rx="3" ry="3" fill="rgb(150,150,150)" filter="url(#bs)"/>
<ellipse cx="640.6" cy="133.2" rx="3" ry="3" fill="rgb(110,110,110)" filter="url(#bs)"/>
<ellipse cx="652.9" cy="146.3" rx="2.5" ry="2.5" fill="rgb(90,90,90)" filter="url(#bs)"/>
<ellipse cx="587.3" cy="176.6" rx="2" ry="2" fill="rgb(150,150,150)" filter="url(#bs)"/>
<ellipse cx="619.5" cy="174" rx="1.5" ry="3.5" fill="rgb(220,220,220)" filter="url(#bs)"/>
</g>
</g>
<rect x="418.3" y="85.7" width="40.6" height="2.3" fill="#fff"/>
<text x="668.3" y="53.5">BA</text>
<text x="667.8" y="169.7">AA</text>
<text x="425.3" y="222.6" text-anchor="middle">10 nJ</text>
<text x="521.8" y="222.6" text-anchor="middle">25 nJ</text>
<text x="623.8" y="222.6" text-anchor="middle">50 nJ</text>
<g transform="translate(402.8 48.3) rotate(4.49)"><line x1="0" y1="0" x2="14.16" y2="0" stroke="#d4861f" stroke-width="1.9"/><path d="M19.16 0 L11.16 -4.6 L12.86 0 L11.16 4.6 Z" fill="#d4861f"/></g>
<g transform="translate(498.5 46.4) rotate(3.26)"><line x1="0" y1="0" x2="14.33" y2="0" stroke="#d4861f" stroke-width="1.9"/><path d="M19.33 0 L11.33 -4.6 L13.03 0 L11.33 4.6 Z" fill="#d4861f"/></g>
<g transform="translate(594.1 48.5) rotate(5.03)"><line x1="0" y1="0" x2="14.37" y2="0" stroke="#d4861f" stroke-width="1.9"/><path d="M19.37 0 L11.37 -4.6 L13.07 0 L11.37 4.6 Z" fill="#d4861f"/></g>
<g transform="translate(398.5 162.6) rotate(6.50)"><line x1="0" y1="0" x2="14.42" y2="0" stroke="#d4861f" stroke-width="1.9"/><path d="M19.42 0 L11.42 -4.6 L13.12 0 L11.42 4.6 Z" fill="#d4861f"/></g>
<g transform="translate(497.6 160.1) rotate(5.94)"><line x1="0" y1="0" x2="15.31" y2="0" stroke="#d4861f" stroke-width="1.9"/><path d="M20.31 0 L12.31 -4.6 L14.01 0 L12.31 4.6 Z" fill="#d4861f"/></g>
<g transform="translate(593.2 160.1) rotate(5.94)"><line x1="0" y1="0" x2="15.31" y2="0" stroke="#d4861f" stroke-width="1.9"/><path d="M20.31 0 L12.31 -4.6 L14.01 0 L12.31 4.6 Z" fill="#d4861f"/></g>
</svg>
</body></html>
